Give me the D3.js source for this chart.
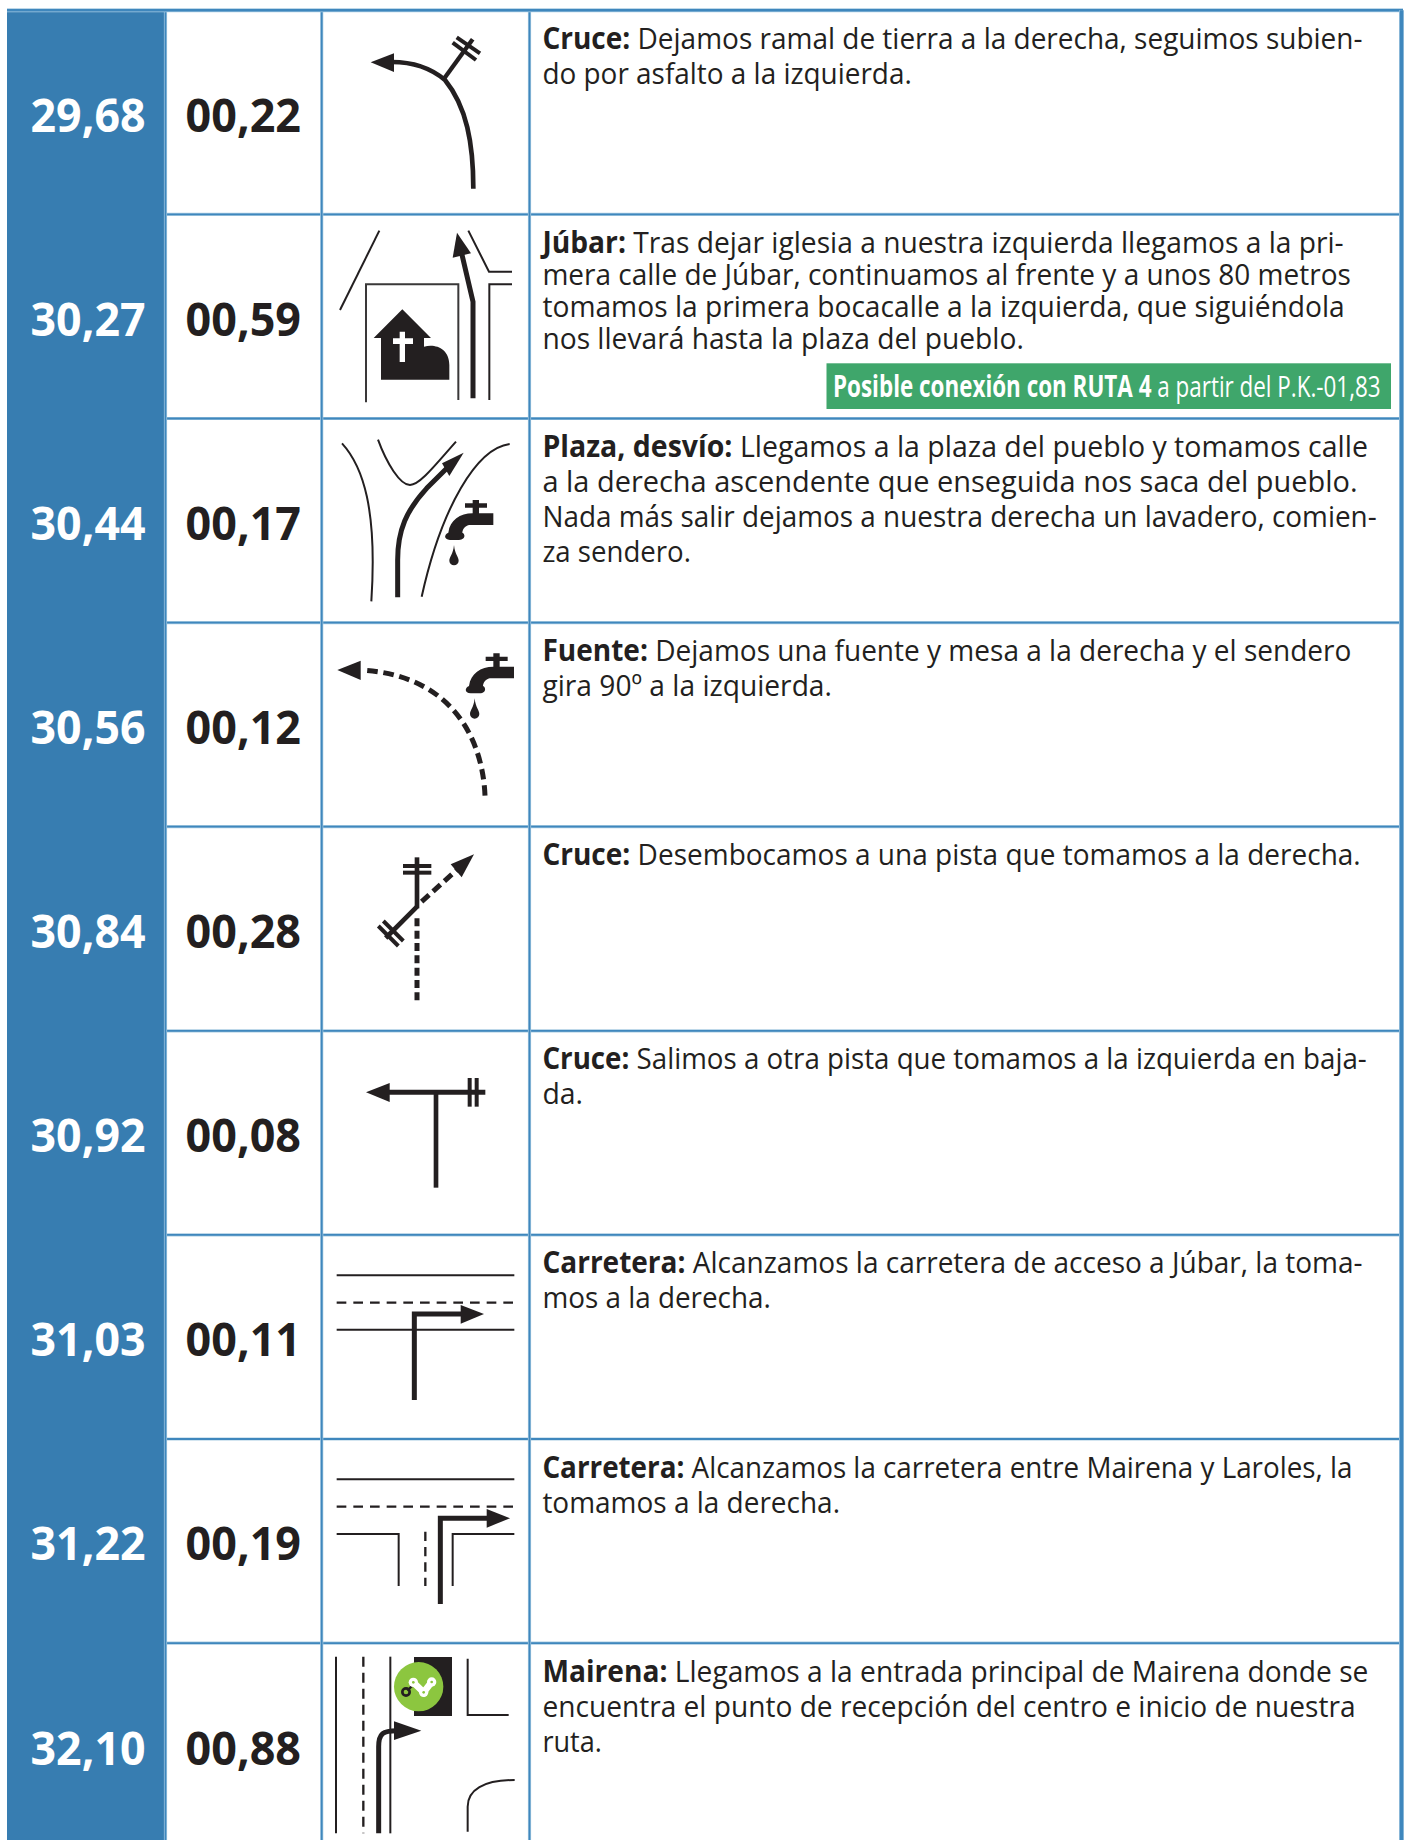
<!DOCTYPE html>
<html>
<head>
<meta charset="utf-8">
<style>
body { margin: 0; background: #fff; }
svg { display: block; }
text { font-family: "Open Sans", sans-serif; }
</style>
<script src="https://cdnjs.cloudflare.com/ajax/libs/d3/7.8.5/d3.min.js"></script>
</head>
<body>
<script>
var totals = ["29,68", "30,27", "30,44", "30,56", "30,84", "30,92", "31,03", "31,22", "32,10"];
var partials = ["00,22", "00,59", "00,17", "00,12", "00,28", "00,08", "00,11", "00,19", "00,88"];
var titles = ["Cruce:", "Júbar:", "Plaza, desvío:", "Fuente:", "Cruce:", "Cruce:", "Carretera:", "Carretera:", "Mairena:"];
var descriptions = [
    [" Dejamos ramal de tierra a la derecha, seguimos subien-", "do por asfalto a la izquierda."],
    [" Tras dejar iglesia a nuestra izquierda llegamos a la pri-", "mera calle de Júbar, continuamos al frente y a unos 80 metros", "tomamos la primera bocacalle a la izquierda, que siguiéndola", "nos llevará hasta la plaza del pueblo."],
    [" Llegamos a la plaza del pueblo y tomamos calle", "a la derecha ascendente que enseguida nos saca del pueblo.", "Nada más salir dejamos a nuestra derecha un lavadero, comien-", "za sendero."],
    [" Dejamos una fuente y mesa a la derecha y el sendero", "gira 90º a la izquierda."],
    [" Desembocamos a una pista que tomamos a la derecha."],
    [" Salimos a otra pista que tomamos a la izquierda en baja-", "da."],
    [" Alcanzamos la carretera de acceso a Júbar, la toma-", "mos a la derecha."],
    [" Alcanzamos la carretera entre Mairena y Laroles, la", "tomamos a la derecha."],
    [" Llegamos a la entrada principal de Mairena donde se", "encuentra el punto de recepción del centro e inicio de nuestra", "ruta."]
];
// right end of every text line, to fit the substitute font to the original one
var lineEnds = [
    [1363, 912],
    [1344, 1351, 1345, 1024],
    [1368, 1358, 1377, 691],
    [1352, 832],
    [1361],
    [1367, 583],
    [1363, 771],
    [1353, 840],
    [1369, 1356, 602]
];
var noteBold = "Posible conexión con RUTA 4";
var noteRest = " a partir del P.K.-01,83";

var w = 1408;
var h = 1840;
var ink = "#231f20";
var blue = "#377db1";
var gridBlue = "#3f87bd";

var svg = d3.select("body").append("svg").attr("width", w).attr("height", h);

var rowIdx = d3.range(totals.length);
var y = d3.scaleBand().domain(rowIdx).range([10.3, 10.3 + 204.1 * totals.length]);
var colX = [7, 165.5, 321.7, 529.5, 1401];

// squeeze a text horizontally so it takes the given width
function fit(sel, x, yPos, width) {
    sel.each(function () {
        var k = width / this.getComputedTextLength();
        var t = "translate(" + x + "," + yPos + ") scale(" + k + ",1)";
        d3.select(this).attr("transform", t);
    });
}

// blue first column
svg.append("rect").attr("x", colX[0]).attr("y", y(0) - 1).attr("width", colX[1] - colX[0]).attr("height", h).attr("fill", blue);

// grid, with the pale halo the print has
var grid = svg.append("g");
function gridLine(x1, y1, x2, y2, sw) {
    grid.append("line").attr("x1", x1).attr("y1", y1).attr("x2", x2).attr("y2", y2).attr("stroke", "#a8cbe2").attr("stroke-width", sw + 1.4);
    grid.append("line").attr("x1", x1).attr("y1", y1).attr("x2", x2).attr("y2", y2).attr("stroke", gridBlue).attr("stroke-width", sw);
}
rowIdx.forEach(function (i) {
    if (i > 0) gridLine(colX[1], y(i), colX[4], y(i), 1.8);
});
colX.slice(1, 4).forEach(function (x) {
    gridLine(x, y(0), x, h, 1.8);
});
gridLine(colX[0], y(0), colX[4] + 2, y(0), 2.6);
gridLine(colX[4] + 0.5, y(0), colX[4] + 0.5, h, 3.6);

// number columns
svg.selectAll("text.total").data(totals).enter().append("text")
    .attr("class", "total")
    .attr("text-anchor", "middle")
    .attr("font-weight", 700)
    .attr("font-size", 46)
    .attr("fill", "#fff")
    .text(function (d) { return d; })
    .each(function (d, i) { fit(d3.select(this), 88, y(i) + 121.4, 115); });

svg.selectAll("text.partial").data(partials).enter().append("text")
    .attr("class", "partial")
    .attr("text-anchor", "middle")
    .attr("font-weight", 700)
    .attr("font-size", 46)
    .attr("fill", ink)
    .text(function (d) { return d; })
    .each(function (d, i) { fit(d3.select(this), 243.3, y(i) + 121.4, 115.5); });

// description column
var textLeft = 542.4;
rowIdx.forEach(function (i) {
    var gap = i == 1 ? 32 : 35;
    descriptions[i].forEach(function (line, j) {
        var t = svg.append("text").attr("font-size", 30).attr("fill", ink);
        if (j == 0) t.append("tspan").attr("font-weight", 700).text(titles[i]);
        t.append("tspan").style("white-space", "pre").text(line);
        fit(t, textLeft, y(i) + 38.5 + j * gap, lineEnds[i][j] - textLeft);
    });
});

// green note under Júbar
svg.append("rect").attr("x", 826.5).attr("y", 363.3).attr("width", 564.5).attr("height", 45.7).attr("fill", "#3fa66b");
var note = svg.append("text").attr("font-size", 30).attr("fill", "#fff");
note.append("tspan").attr("font-weight", 700).text(noteBold);
note.append("tspan").style("white-space", "pre").text(noteRest);
fit(note, 833, 396.7, 548);

// road pictograms, drawn in 3x units of the cell they sit in
function stroke(g, d, sw, dash, col) {
    return g.append("path").attr("d", d).attr("fill", "none").attr("stroke", col || ink).attr("stroke-width", sw).attr("stroke-dasharray", dash || null);
}
function fill(g, d, col) {
    return g.append("path").attr("d", d).attr("fill", col || ink);
}
function faucet(g, dx, dy) {
    var f = g.append("g").attr("transform", "translate(" + dx + "," + dy + ")");
    fill(f, "M520 910L520 945L447 945C434 948 428 958 427 968C437 972 436 990 417 990L390 990C373 990 370 975 385 968C390 930 420 910 458 910L458 893L435 893L435 880L458 880L458 870L477 870L477 880L501 880L501 893L477 893L477 910Z");
    fill(f, "M402 1005C405 1035 416 1040 416 1052A14 14 0 1 1 388 1052C388 1040 399 1035 402 1005Z");
}
var icons = [
    function (g) {
        stroke(g, "M460 566C460 430 440 320 375 240C330 202 280 186 215 186", 14);
        fill(g, "M152 187L222 160L222 216Z");
        stroke(g, "M372 236L458 118", 13);
        stroke(g, "M410 112L480 160", 12);
        stroke(g, "M398 128L468 180", 12);
    },
    function (g) {
        stroke(g, "M60 300L178 62", 6);
        stroke(g, "M459 565L459 275L425 130", 15);
        fill(g, "M411 68L453 130L398 143Z");
        stroke(g, "M445 62L507 185L576 185", 6);
        stroke(g, "M508 570L508 223L576 223", 6);
        stroke(g, "M138 577L138 223L415 223L415 570", 6, null, "#3a3839");
        fill(g, "M247 298L333 384L312 384L312 410C345 400 388 415 388 465L388 509L183 509L183 384L161 384Z");
        fill(g, "M239 365L255 365L255 385L279 385L279 402L255 402L255 456L239 456L239 402L219 402L219 385L239 385Z", "#fff");
    },
    function (g) {
        stroke(g, "M66 700C130 770 172 900 154 1174", 6);
        stroke(g, "M174 689C200 760 240 825 270 825C300 825 350 760 408 695", 6);
        stroke(g, "M569 702C470 715 365 890 305 1160", 6);
        stroke(g, "M233 1162L233 1050C233 960 260 900 320 835L385 770", 15);
        fill(g, "M431 728L388 798L366 760Z");
        faucet(g, 0, 0);
    },
    function (g) {
        stroke(g, "M495 527C490 400 430 170 125 150", 15, "32 17");
        fill(g, "M52 150L122 122L122 180Z");
        faucet(g, 62, -770);
    },
    function (g) {
        stroke(g, "M291 712L291 865", 14);
        stroke(g, "M291 860L197 954", 14);
        stroke(g, "M249 738L334 738", 12);
        stroke(g, "M249 758L334 758", 12);
        stroke(g, "M190 903L250 963", 12);
        stroke(g, "M175 918L235 978", 12);
        stroke(g, "M291 895L291 1150", 15, "24 13");
        stroke(g, "M305 845L410 750", 15, "30 16");
        fill(g, "M462 703L425 772L392 733Z");
    },
    function (g) {
        stroke(g, "M200 157L496 157", 15);
        fill(g, "M138 157L209 129L209 186Z");
        stroke(g, "M348 157L348 443", 14);
        stroke(g, "M449 114L449 200", 12);
        stroke(g, "M470 114L470 200", 12);
    },
    function (g) {
        stroke(g, "M50 706L583 706", 6);
        stroke(g, "M50 788L583 788", 7, "29 21");
        stroke(g, "M50 869L583 869", 6);
        stroke(g, "M283 1080L283 822L430 822", 15);
        fill(g, "M492 822L422 795L422 851Z");
    },
    function (g) {
        stroke(g, "M50 118L583 118", 6);
        stroke(g, "M50 200L583 200", 7, "29 21");
        stroke(g, "M50 282L236 282L236 438", 6);
        stroke(g, "M583 282L398 282L398 438", 6);
        stroke(g, "M316 275L316 438", 7, "28 18");
        stroke(g, "M361 492L361 235L510 235", 15);
        fill(g, "M570 235L500 207L500 263Z");
    },
    function (g) {
        stroke(g, "M48 650L48 1180", 6);
        stroke(g, "M130 650L130 1180", 7, "30 18");
        stroke(g, "M211 650L211 1180", 6);
        stroke(g, "M443 656L443 825L566 825", 6);
        stroke(g, "M443 1175L443 1100C443 1050 490 1020 584 1020", 6);
        stroke(g, "M176 1180L176 920C176 880 190 872 230 872", 15);
        fill(g, "M304 872L222 844L222 900Z");
        fill(g, "M282 651L396 651L396 828L282 828Z");
        // green logo with the chain links
        g.append("circle").attr("cx", 296).attr("cy", 740).attr("r", 74).attr("fill", "#8cc63f");
        stroke(g, "M262 752L282 732", 7);
        g.append("circle").attr("cx", 258).attr("cy", 756).attr("r", 11).attr("fill", "none").attr("stroke", ink).attr("stroke-width", 8);
        stroke(g, "M280 727L311 757L335 726", 20, null, "#fff").attr("stroke-linecap", "round");
        [[280, 727], [311, 757], [335, 726]].forEach(function (p) {
            g.append("circle").attr("cx", p[0]).attr("cy", p[1]).attr("r", 14).attr("fill", "#fff");
            g.append("circle").attr("cx", p[0]).attr("cy", p[1]).attr("r", 4).attr("fill", "#8cc63f");
        });
    }
];
var iconTop = [0, 210, 210, 620, 620, 1040, 1040, 1440, 1440];
icons.forEach(function (draw, i) {
    var g = svg.append("g").attr("transform", "translate(320," + iconTop[i] + ") scale(" + (1 / 3) + ")");
    draw(g);
});
</script>
</body>
</html>
